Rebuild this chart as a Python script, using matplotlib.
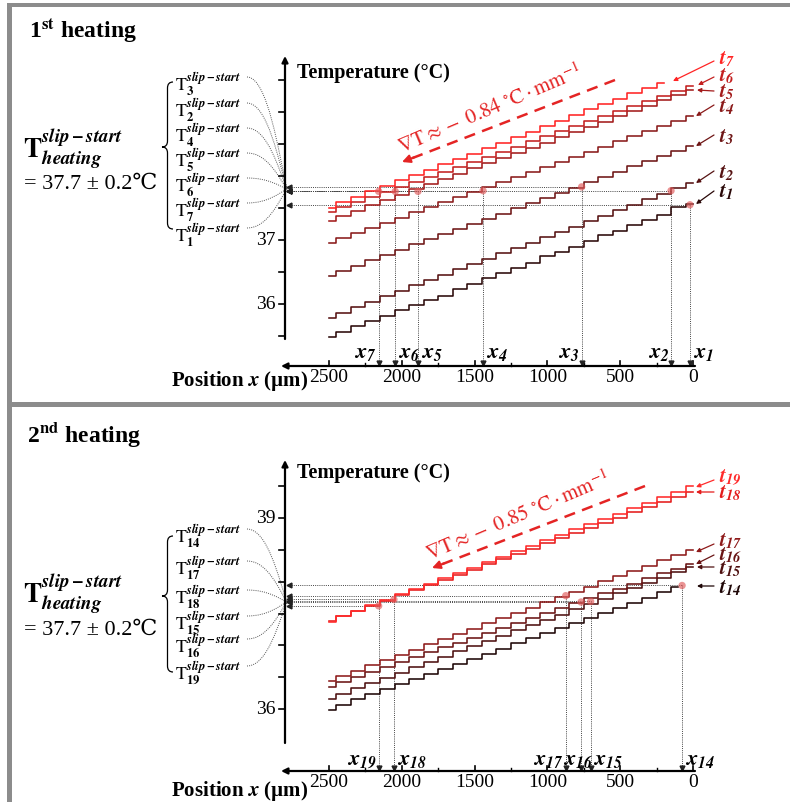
import matplotlib
matplotlib.use("Agg")
import matplotlib.pyplot as plt
from matplotlib.path import Path
from matplotlib.patches import PathPatch, Rectangle

plt.rcParams['font.family'] = ['Liberation Serif', 'DejaVu Serif']
plt.rcParams['mathtext.fontset'] = 'stix'

# ------------------------------------------------------------------ data
positions = [2500, 2400, 2300, 2200, 2100, 2000, 1900, 1800, 1700, 1600, 1500,
             1400, 1300, 1200, 1100, 1000, 900, 800, 700, 600, 500, 400, 300,
             200, 100, 0]

# 1st heating (temperature, degC, read at the positions above)
t1 = [35.48, 35.56, 35.65, 35.73, 35.81, 35.90, 35.98, 36.06, 36.13, 36.23, 36.31,
      36.40, 36.48, 36.56, 36.64, 36.75, 36.81, 36.89, 36.98, 37.08, 37.14, 37.23,
      37.31, 37.39, 37.52, 37.56]
t2 = [35.78, 35.86, 35.95, 36.03, 36.12, 36.20, 36.29, 36.37, 36.46, 36.54, 36.62,
      36.71, 36.79, 36.88, 36.96, 37.05, 37.13, 37.21, 37.30, 37.38, 37.47, 37.55,
      37.64, 37.72, 37.81, 37.89]
t3 = [36.44, 36.52, 36.60, 36.68, 36.76, 36.85, 36.93, 37.01, 37.09, 37.17, 37.25,
      37.33, 37.41, 37.50, 37.58, 37.66, 37.74, 37.82, 37.90, 37.98, 38.06, 38.15,
      38.23, 38.31, 38.39, 38.47]
t4 = [36.95, 37.03, 37.11, 37.19, 37.27, 37.35, 37.43, 37.51, 37.59, 37.67, 37.75,
      37.83, 37.91, 37.98, 38.06, 38.14, 38.22, 38.30, 38.38, 38.46, 38.54, 38.62,
      38.70, 38.78, 38.86, 38.94]
t5 = [37.30, 37.38, 37.46, 37.54, 37.63, 37.71, 37.79, 37.87, 37.95, 38.03, 38.12,
      38.20, 38.28, 38.36, 38.44, 38.52, 38.61, 38.69, 38.77, 38.85, 38.93, 39.01,
      39.10, 39.18, 39.26, 39.34]
t6 = [37.43, 37.51, 37.59, 37.67, 37.75, 37.83, 37.91, 37.98, 38.06, 38.14, 38.22,
      38.30, 38.38, 38.46, 38.54, 38.62, 38.70, 38.78, 38.86, 38.93, 39.01, 39.09,
      39.17, 39.25, 39.33, 39.41]
t7 = [37.50, 37.59, 37.67, 37.76, 37.84, 37.93, 38.01, 38.10, 38.18, 38.27, 38.35,
      38.44, 38.52, 38.61, 38.69, 38.78, 38.86, 38.95, 39.04, 39.12, 39.21, 39.29,
      39.38, 39.46]

# 2nd heating
t14 = [35.99, 36.07, 36.15, 36.23, 36.31, 36.39, 36.47, 36.55, 36.63, 36.71, 36.79,
       36.87, 36.95, 37.03, 37.11, 37.19, 37.27, 37.35, 37.43, 37.51, 37.59, 37.67,
       37.75, 37.83, 37.92]
t15 = [36.16, 36.24, 36.33, 36.41, 36.49, 36.57, 36.66, 36.74, 36.82, 36.91, 36.99,
       37.07, 37.15, 37.24, 37.32, 37.40, 37.48, 37.57, 37.65, 37.73, 37.82, 37.90,
       37.98, 38.06, 38.15, 38.23]
t16 = [36.35, 36.43, 36.50, 36.58, 36.66, 36.74, 36.81, 36.89, 36.97, 37.04, 37.12,
       37.20, 37.28, 37.35, 37.43, 37.51, 37.59, 37.66, 37.74, 37.82, 37.89, 37.97,
       38.05, 38.13, 38.20, 38.28]
t17 = [36.44, 36.52, 36.60, 36.69, 36.77, 36.85, 36.93, 37.02, 37.10, 37.18, 37.26,
       37.35, 37.43, 37.51, 37.59, 37.68, 37.76, 37.84, 37.92, 38.01, 38.09, 38.17,
       38.25, 38.34, 38.42, 38.50]
t18 = [37.38, 37.46, 37.54, 37.62, 37.70, 37.79, 37.87, 37.95, 38.03, 38.11, 38.19,
       38.27, 38.35, 38.44, 38.52, 38.60, 38.68, 38.76, 38.84, 38.92, 39.00, 39.09,
       39.17, 39.25, 39.33, 39.41]
t19 = [37.37, 37.46, 37.54, 37.63, 37.71, 37.80, 37.88, 37.97, 38.05, 38.14, 38.22,
       38.31, 38.39, 38.48, 38.56, 38.65, 38.73, 38.82, 38.90, 38.99, 39.07, 39.16,
       39.24, 39.33, 39.41, 39.50]

top_names = ['1', '2', '3', '4', '5', '6', '7']
top_curves = [t1, t2, t3, t4, t5, t6, t7]
bot_names = ['14', '15', '16', '17', '18', '19']
bot_curves = [t14, t15, t16, t17, t18, t19]

# slip-start points (position um, temperature degC)
slip_x_top = [21, 151, 765, 1442, 1889, 2045, 2159]
slip_T_top = [37.55, 37.77, 37.83, 37.77, 37.76, 37.76, 37.76]
slip_x_bot = [75, 703, 769, 874, 2054, 2159]
slip_T_bot = [37.94, 37.69, 37.68, 37.78, 37.72, 37.62]

x_major = [0, 500, 1000, 1500, 2000, 2500]
x_minor = [250, 750, 1250, 1750, 2250]
top_yticks = [35.5, 36.0, 36.5, 37.0, 37.5, 38.0, 38.5, 39.0, 39.5]
top_ylabels = [36, 37]
bot_yticks = [36.0, 36.5, 37.0, 37.5, 38.0, 38.5, 39.0, 39.5]
bot_ylabels = [36, 39]

top_colors = ['#2a0808', '#561212', '#6e1515', '#8a1a1a', '#a31b1b', '#c42020', '#ff2424']
bot_colors = ['#1e0606', '#4e1010', '#6a1414', '#8e1a1a', '#e41c1c', '#ff2a2a']
RED = '#e42424'

# ------------------------------------------------------------------ layout
W, H = 790, 803
fig = plt.figure(figsize=(W / 100, H / 100), dpi=100)
ov = fig.add_axes([0, 0, 1, 1])
ov.set_xlim(0, W)
ov.set_ylim(H, 0)
ov.set_axis_off()

PX_0, PX_2500 = 693, 329
UPP = 2500 / (PX_0 - PX_2500)


def panel(px_top, px_bot, pyA, TA, pyB, TB):
    ax = fig.add_axes([0, 1 - px_bot / H, 1, (px_bot - px_top) / H])
    ax.set_axis_off()
    tpp = (TA - TB) / (pyB - pyA)
    ax.set_xlim(2500 + PX_2500 * UPP, 2500 - (W - PX_2500) * UPP)
    ax.set_ylim(TA - (px_bot - pyA) * tpp, TA + (pyA - px_top) * tpp)
    X = lambda px: 2500 - (px - PX_2500) * UPP
    Y = lambda py: TA + (pyA - py) * tpp
    return ax, X, Y


def draw_panel(ax, X, Y, py_xaxis, py_ybot, py_ytop, yticks, ylabels,
               curves, colors, sx, sT, xnames, xsides, py_xlab):
    # y axis
    ax.annotate('', xy=(X(285), Y(py_ytop)), xytext=(X(285), Y(py_ybot)),
                arrowprops=dict(arrowstyle='-|>', color='k', lw=1.6,
                                mutation_scale=9, shrinkA=0, shrinkB=0),
                annotation_clip=False)
    for t in yticks:
        ax.plot([X(285), X(279)], [t, t], color='k', lw=1.2, clip_on=False)
    for t in ylabels:
        ax.text(X(276), t, f'{t:g}', ha='right', va='center', fontsize=14)
    # x axis
    ax.annotate('', xy=(X(281), Y(py_xaxis)), xytext=(X(695), Y(py_xaxis)),
                arrowprops=dict(arrowstyle='-|>', color='k', lw=1.6,
                                mutation_scale=9, shrinkA=0, shrinkB=0),
                annotation_clip=False)
    for p in x_major:
        ax.plot([p, p], [Y(py_xaxis), Y(py_xaxis - 5)], color='k', lw=1.2, clip_on=False)
        ax.text(p, Y(py_xaxis + 15), f'{p}', ha='center', va='baseline', fontsize=14)
    for p in x_minor:
        ax.plot([p, p], [Y(py_xaxis), Y(py_xaxis - 3)], color='k', lw=1.0, clip_on=False)
    # curves
    for c, col in zip(curves, colors):
        ax.plot(positions[:len(c)], c, drawstyle='steps-mid', color=col, lw=1.15,
                clip_on=False, zorder=3)
    # slip-start guides
    for x, t, nm, side in zip(sx, sT, xnames, xsides):
        ax.plot([X(289), x], [t, t], color='#444444', lw=0.7, ls=(0, (1, 1.2)),
                clip_on=False, zorder=2)
        ax.plot([X(289)], [t], marker='<', ms=3.5, color='#222222', clip_on=False)
        ax.plot([x, x], [t, Y(py_xaxis - 3)], color='#444444', lw=0.7, ls=(0, (1, 1.2)),
                clip_on=False, zorder=2)
        ax.plot([x], [Y(py_xaxis - 3)], marker='v', ms=3.5, color='#222222', clip_on=False)
        if side == 'l':
            ha, dx = 'right', -1.5
        elif side == 'r':
            ha, dx = 'left', 2.0
        else:
            ha, dx = 'center', -2.0
        ax.annotate(r'$\mathbfit{x}_{\mathbfit{' + nm + '}}$', xy=(x, Y(py_xlab)),
                    xytext=(dx, 0), textcoords='offset points', ha=ha,
                    va='baseline', fontsize=16, annotation_clip=False)
    ax.scatter(sx, sT, s=28, color='#e05a5a', alpha=0.65, edgecolors='none',
               zorder=6, clip_on=False)


axT, XT, YT = panel(0, 402, 241, 37.0, 305, 36.0)
draw_panel(axT, XT, YT, 367, 340, 57, top_yticks, top_ylabels, top_curves, top_colors,
           slip_x_top, slip_T_top, top_names, ['r', 'l', 'l', 'r', 'r', 'r', 'l'], 358)

axB, XB, YB = panel(405, H, 519, 39.0, 710, 36.0)
draw_panel(axB, XB, YB, 772, 744, 461, bot_yticks, bot_ylabels, bot_curves, bot_colors,
           slip_x_bot, slip_T_bot, bot_names, ['r', 'r', 'c', 'l', 'r', 'l'], 765)

# ------------------------------------------------------------------ decorations
for (x, y, w, h) in [(7, 4, 5, 799), (7, 4, 783, 4), (7, 403, 783, 5)]:
    ov.add_patch(Rectangle((x, y), w, h, color='#8c8c8c', lw=0))

ov.text(29, 38, r'1$^{\mathbf{st}}$ heating', fontsize=17, fontweight='bold', va='baseline')
ov.text(27, 442, r'2$^{\mathbf{nd}}$ heating', fontsize=17, fontweight='bold', va='baseline')

for yb in (78, 478):
    ov.text(297, yb, 'Temperature (°C)', fontsize=14.5, fontweight='bold', va='baseline')
for yb in (386, 796):
    ov.text(308, yb, r'Position $\mathbfit{x}$ (µm)', fontsize=15, fontweight='bold',
            va='baseline', ha='right')

big = r'$\mathbf{T}_{\mathbfit{heating}}^{\mathbfit{slip-start}}$'
for yb, ye in ((158, 189), (603, 635)):
    ov.text(23, yb, big, fontsize=19.5, va='baseline')
    ov.text(24, ye, '= 37.7 ± 0.2℃', fontsize=16, va='baseline',
            family=['Liberation Serif', 'DejaVu Serif'])


def brace(xr, xl, yt, yb, ym, r=6):
    xm = (xl + xr) / 2
    verts = [(xr, yt), (xm, yt), (xm, yt + r), (xm, ym - r), (xm, ym), (xl, ym),
             (xm, ym), (xm, ym + r), (xm, yb - r), (xm, yb), (xr, yb)]
    codes = [Path.MOVETO, Path.CURVE3, Path.CURVE3, Path.LINETO, Path.CURVE3, Path.CURVE3,
             Path.CURVE3, Path.CURVE3, Path.LINETO, Path.CURVE3, Path.CURVE3]
    ov.add_patch(PathPatch(Path(verts, codes), fill=False, lw=0.9, color='k'))


brace(173, 162, 83, 230, 148)
brace(173, 162, 537, 673, 597)


def slip_labels(names, baselines, yc):
    for nm, yb in zip(names, baselines):
        ov.text(175, yb, r'$\mathrm{T}_{\mathbf{' + nm + r'}}^{\mathbfit{slip-start}}$',
                fontsize=13, va='baseline')
        y0 = yb - 13
        verts = [(247, y0), (268, y0), (279, yc + 0.3 * (y0 - yc)), (287, yc)]
        ov.add_patch(PathPatch(Path(verts, [Path.MOVETO, Path.CURVE4, Path.CURVE4, Path.CURVE4]),
                               fill=False, lw=0.7, color='#555555', ls=(0, (1, 1.2))))


slip_labels(['3', '2', '4', '5', '6', '7', '1'], [91, 117, 142, 167, 192, 217, 242], 190)
slip_labels(['14', '17', '18', '15', '16', '19'], [543, 575, 604, 630, 653, 680], 603)


def curve_labels(names, colors, baselines, arrows):
    for nm, col, yb, (a, b) in zip(names, colors, baselines, arrows):
        ov.text(719, yb, r'$\mathbfit{t}_{\mathbfit{' + nm + '}}$', color=col,
                fontsize=15, va='baseline')
        ov.annotate('', xy=b, xytext=a,
                    arrowprops=dict(arrowstyle='-|>', color=col, lw=0.9,
                                    mutation_scale=6, shrinkA=0, shrinkB=0))


curve_labels(top_names, top_colors, [197, 178, 142, 112, 97, 81, 64],
             [((714, 192), (696, 205)), ((714, 172), (696, 184)), ((714, 136), (696, 147)),
              ((714, 106), (696, 117)), ((714, 92), (697, 91)), ((714, 78), (698, 86)),
              ((714, 62), (673, 82))])
curve_labels(bot_names, bot_colors, [593, 574, 560, 546, 498, 482],
             [((714, 587), (697, 587)), ((714, 568), (697, 568)), ((714, 556), (696, 565)),
              ((714, 545), (696, 553)), ((714, 493), (696, 493)), ((714, 481), (696, 488))])


def gradient(label, p_from, p_to, center, rot):
    ov.plot([p_from[0], p_to[0] + 8], [p_from[1], p_to[1] - 3], color=RED, lw=1.8,
            ls=(0, (4.5, 3)))
    ov.annotate('', xy=p_to, xytext=(p_to[0] + 12, p_to[1] - 4.6),
                arrowprops=dict(arrowstyle='-|>', color=RED, lw=1.5, mutation_scale=12,
                                shrinkA=0, shrinkB=0))
    ov.text(center[0], center[1], label, color=RED, fontsize=15, rotation=rot,
            rotation_mode='anchor', ha='center', va='center')


gradient(r'$\nabla\mathrm{T}\approx -\ 0.84\ {}^{\circ}\mathrm{C}\cdot\mathrm{mm}^{-1}$',
         (615, 81), (402, 163), (490, 110), 23)
gradient(r'$\nabla\mathrm{T}\approx -\ 0.85\ {}^{\circ}\mathrm{C}\cdot\mathrm{mm}^{-1}$',
         (645, 487), (432, 569), (518, 517), 23)

fig.savefig('out.png', dpi=100)
